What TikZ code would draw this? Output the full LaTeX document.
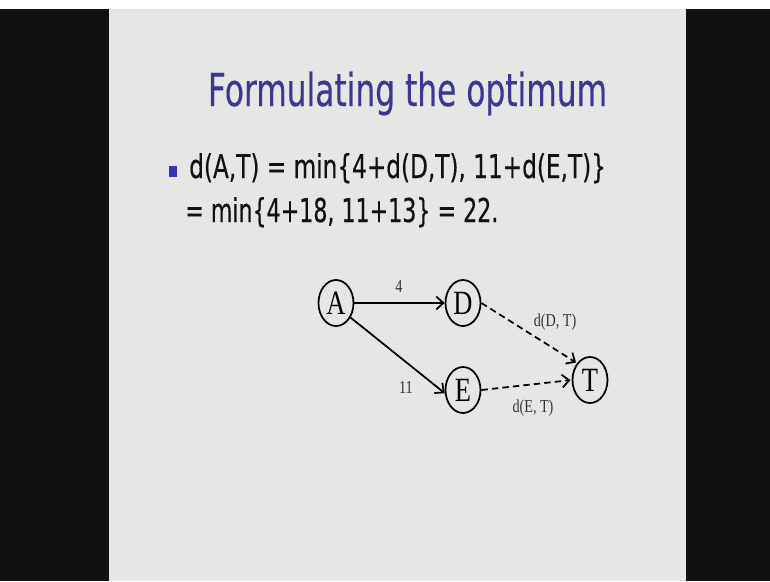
\documentclass[tikz,border=0pt]{standalone}
\usepackage{fontspec}
\usepackage{tikz}
\usetikzlibrary{arrows.meta,shapes.geometric}
\setmainfont{Liberation Serif}
\newfontfamily\slidefont{DejaVu Sans}[FakeStretch=0.69, FakeBold=0.4]
\newfontfamily\bodyfont{DejaVu Sans}[FakeStretch=0.707, FakeBold=0.4]
\newfontfamily\sumfont{DejaVu Sans}[FakeStretch=0.675, FakeBold=0.4]
\newfontfamily\graphfont{Liberation Serif}[FakeStretch=0.78]
\definecolor{slidegray}{HTML}{E6E7E4}
\definecolor{titleblue}{HTML}{3B3895}
\definecolor{bulletblue}{HTML}{3333BB}
\definecolor{barblack}{HTML}{111111}

\begin{document}
\begin{tikzpicture}[x=0.3mm, y=-0.3mm,
  vertex/.style={draw, ellipse, line width=1.5pt, inner sep=0pt,
    minimum width=10.5mm, minimum height=13.8mm,
    font=\graphfont\fontsize{29}{29}\selectfont},
  edge/.style={-{Straight Barb[length=6pt, width=11pt]}, line width=1.5pt},
  dashedge/.style={edge, dash pattern=on 5.5pt off 3.5pt},
  weight/.style={inner sep=0pt, text=black!80,
    font=\graphfont\fontsize{15.5}{15.5}\selectfont},
  slidetext/.style={anchor=base west, inner sep=0pt, text=barblack,
    font=\bodyfont\fontsize{28}{28}\selectfont}]
  \useasboundingbox (0,0) rectangle (770,581);
  % Background
  \fill[white] (0,0) rectangle (770,581);
  \fill[barblack] (0,9) rectangle (109,581);
  \fill[barblack] (686,9) rectangle (770,581);
  \fill[slidegray] (109,9) rectangle (686,581);
  % Title
  \node[anchor=base, inner sep=0pt, text=titleblue,
    font=\slidefont\fontsize{38.7}{38.7}\selectfont] (title) at (407.5,106)
    {Formulating the optimum};
  % Bullet text
  \node[fill=bulletblue, inner sep=0pt, minimum width=2.4mm,
    minimum height=3.3mm] (bullet) at (173,171) {};
  \node[slidetext] (line1) at (189,178) {d(A,T) = min\{4+d(D,T), 11+d(E,T)\}};
  \node[slidetext, font=\sumfont\fontsize{28}{28}\selectfont] (line2)
    at (185,222) {= min\{4+18, 11+13\} = 22.};
  % Graph
  \node[vertex] (A) at (336,303) {A};
  \node[vertex] (D) at (463,303) {D};
  \node[vertex] (E) at (463,390) {E};
  \node[vertex] (T) at (590,380) {T};
  \draw[edge] (A) -- (D);
  \draw[edge] (A.-45) -- (E.190);
  \draw[dashedge, shorten >=1pt] (D.east) -- (T.north west);
  \draw[dashedge, shorten >=1pt] (E.east) -- (T.west);
  % Edge labels
  \node[weight] (wAD) at (399,287) {4};
  \node[weight] (wAE) at (406,387) {11};
  \node[weight] (wDT) at (555,322) {d(D, T)};
  \node[weight] (wET) at (533,408) {d(E, T)};
\end{tikzpicture}
\end{document}
